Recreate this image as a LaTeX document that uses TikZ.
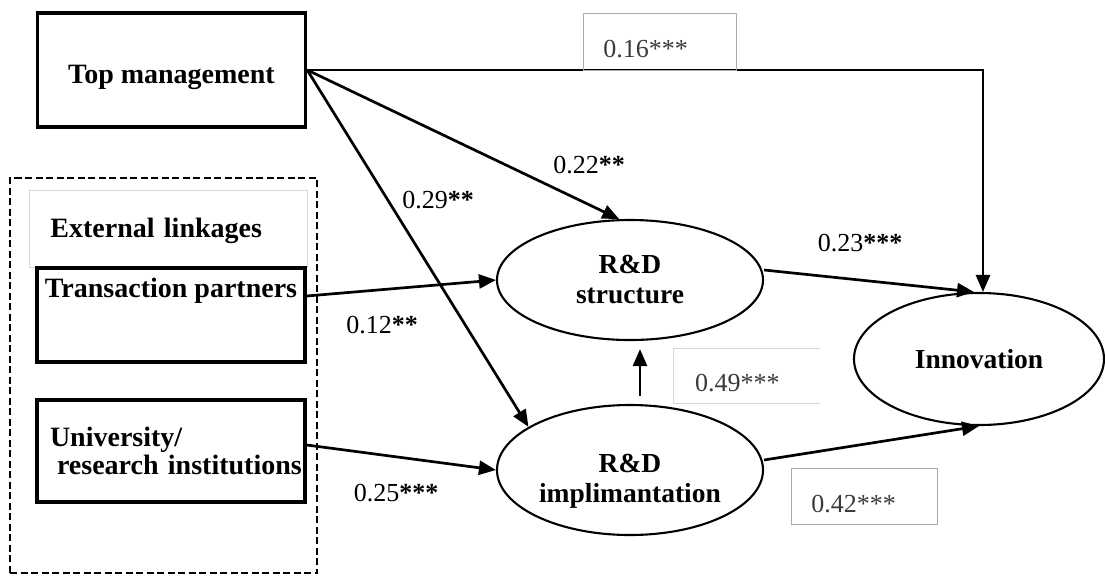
\documentclass[tikz,border=0pt]{standalone}
\usepackage{fontspec}
\setmainfont{Liberation Serif}
\usetikzlibrary{arrows.meta,calc,shapes.geometric}
\definecolor{framegray}{HTML}{AAAAAA}
\definecolor{faintgray}{HTML}{D8D8D8}
\definecolor{coeftext}{HTML}{3A3A3A}

\begin{document}
\begin{tikzpicture}[x=1pt,y=-1pt,
  every node/.style={inner sep=0pt},
  block/.style={draw, line width=3.4pt, minimum width=268pt, font=\fontsize{28}{28}\selectfont\bfseries},
  latent/.style={ellipse, draw, line width=2.1pt, align=center, font=\fontsize{27.5}{30}\selectfont\bfseries},
  effect/.style={line width=2.7pt, -{Triangle[length=17pt,width=14pt]}},
  coefl/.style={font=\fontsize{26}{28}\selectfont},
  coefbox/.style={anchor=north west, font=\fontsize{26}{28}\selectfont, text=coeftext, align=left,
    inner xsep=20pt, inner ysep=0pt, text height=32pt, text depth=0pt},
]
\useasboundingbox (0,0) rectangle (1105,576);

% group frame of the external linkages
\node[draw, line width=2.2pt, dash pattern=on 7pt off 3.5pt, minimum width=307pt, minimum height=395pt]
  (ext) at (163.5,375.5) {};
\node[draw=faintgray, line width=0.8pt, anchor=north west, minimum width=278pt, minimum height=77pt,
  text width=236pt, inner xsep=21pt, align=left, text height=17pt, text depth=0pt,
  font=\fontsize{28}{28}\selectfont\bfseries] (extt) at (29,190) {External linkages};

% observed antecedents
\node[block, minimum height=114pt, text height=26pt, text depth=0pt] (tm) at (171.5,70) {Top management};
\node[block, minimum height=94pt, text height=19pt, text depth=55pt] (tp) at (171,315) {Transaction partners};
\node[block, minimum height=102pt, align=left, text width=242pt, inner xsep=13pt,
  font=\fontsize{28}{28}\selectfont\bfseries] (un) at (171,451)
  {University/\\\hspace*{7pt}\mbox{research institutions}};

% latent constructs
\node[latent, minimum width=266pt, minimum height=120pt] (st) at (630,280) {R\&D\\structure};
\node[latent, minimum width=266pt, minimum height=130pt, text height=64pt, text depth=0pt] (im) at (630,470) {R\&D\\implimantation};
\node[latent, minimum width=250pt, minimum height=132pt] (inn) at (979,359) {Innovation};

% paths
\draw[effect] (tm.east) -| ([xshift=4pt]inn.north);
\draw[effect] (tm.east) -- (st.100);
\draw[effect] (tm.east) -- (im.157);
\draw[effect] ([yshift=19pt]tp.east) -- (st.west);
\draw[effect] ([yshift=6pt]un.east) -- (im.west);
\draw[effect, shorten <=8pt, shorten >=8pt] ([xshift=10pt]im.north) -- ([xshift=10pt]st.south);
\draw[effect] ([yshift=10pt]st.east) -- ([xshift=-5pt]inn.north);
\draw[effect] ([yshift=10pt]im.east) -- (inn.south);

% path coefficients
\node[coefl] (c22) at (589,165) {0.22\textbf{**}};
\node[coefl] (c29) at (438,200) {0.29\textbf{**}};
\node[coefl] (c12) at (382,325) {0.12\textbf{**}};
\node[coefl] (c25) at (396,493) {0.25\textbf{***}};
\node[coefl] (c23) at (860,243) {0.23\textbf{***}};

\node[coefbox, draw=framegray, line width=0.8pt, minimum width=153pt, minimum height=57pt, text width=113pt]
  (c16) at (583,13) {0.16***};
\node[coefbox, draw=framegray, line width=0.8pt, minimum width=146pt, minimum height=56pt, text width=106pt]
  (c42) at (791,468) {0.42***};
\node[coefbox, minimum width=147pt, minimum height=55pt, inner xsep=22pt, text width=103pt]
  (c49) at (673,348) {0.49***};
\draw[faintgray, line width=0.8pt] (c49.north east) -- (c49.north west) -- (c49.south west) -- (c49.south east);
\end{tikzpicture}
\end{document}
